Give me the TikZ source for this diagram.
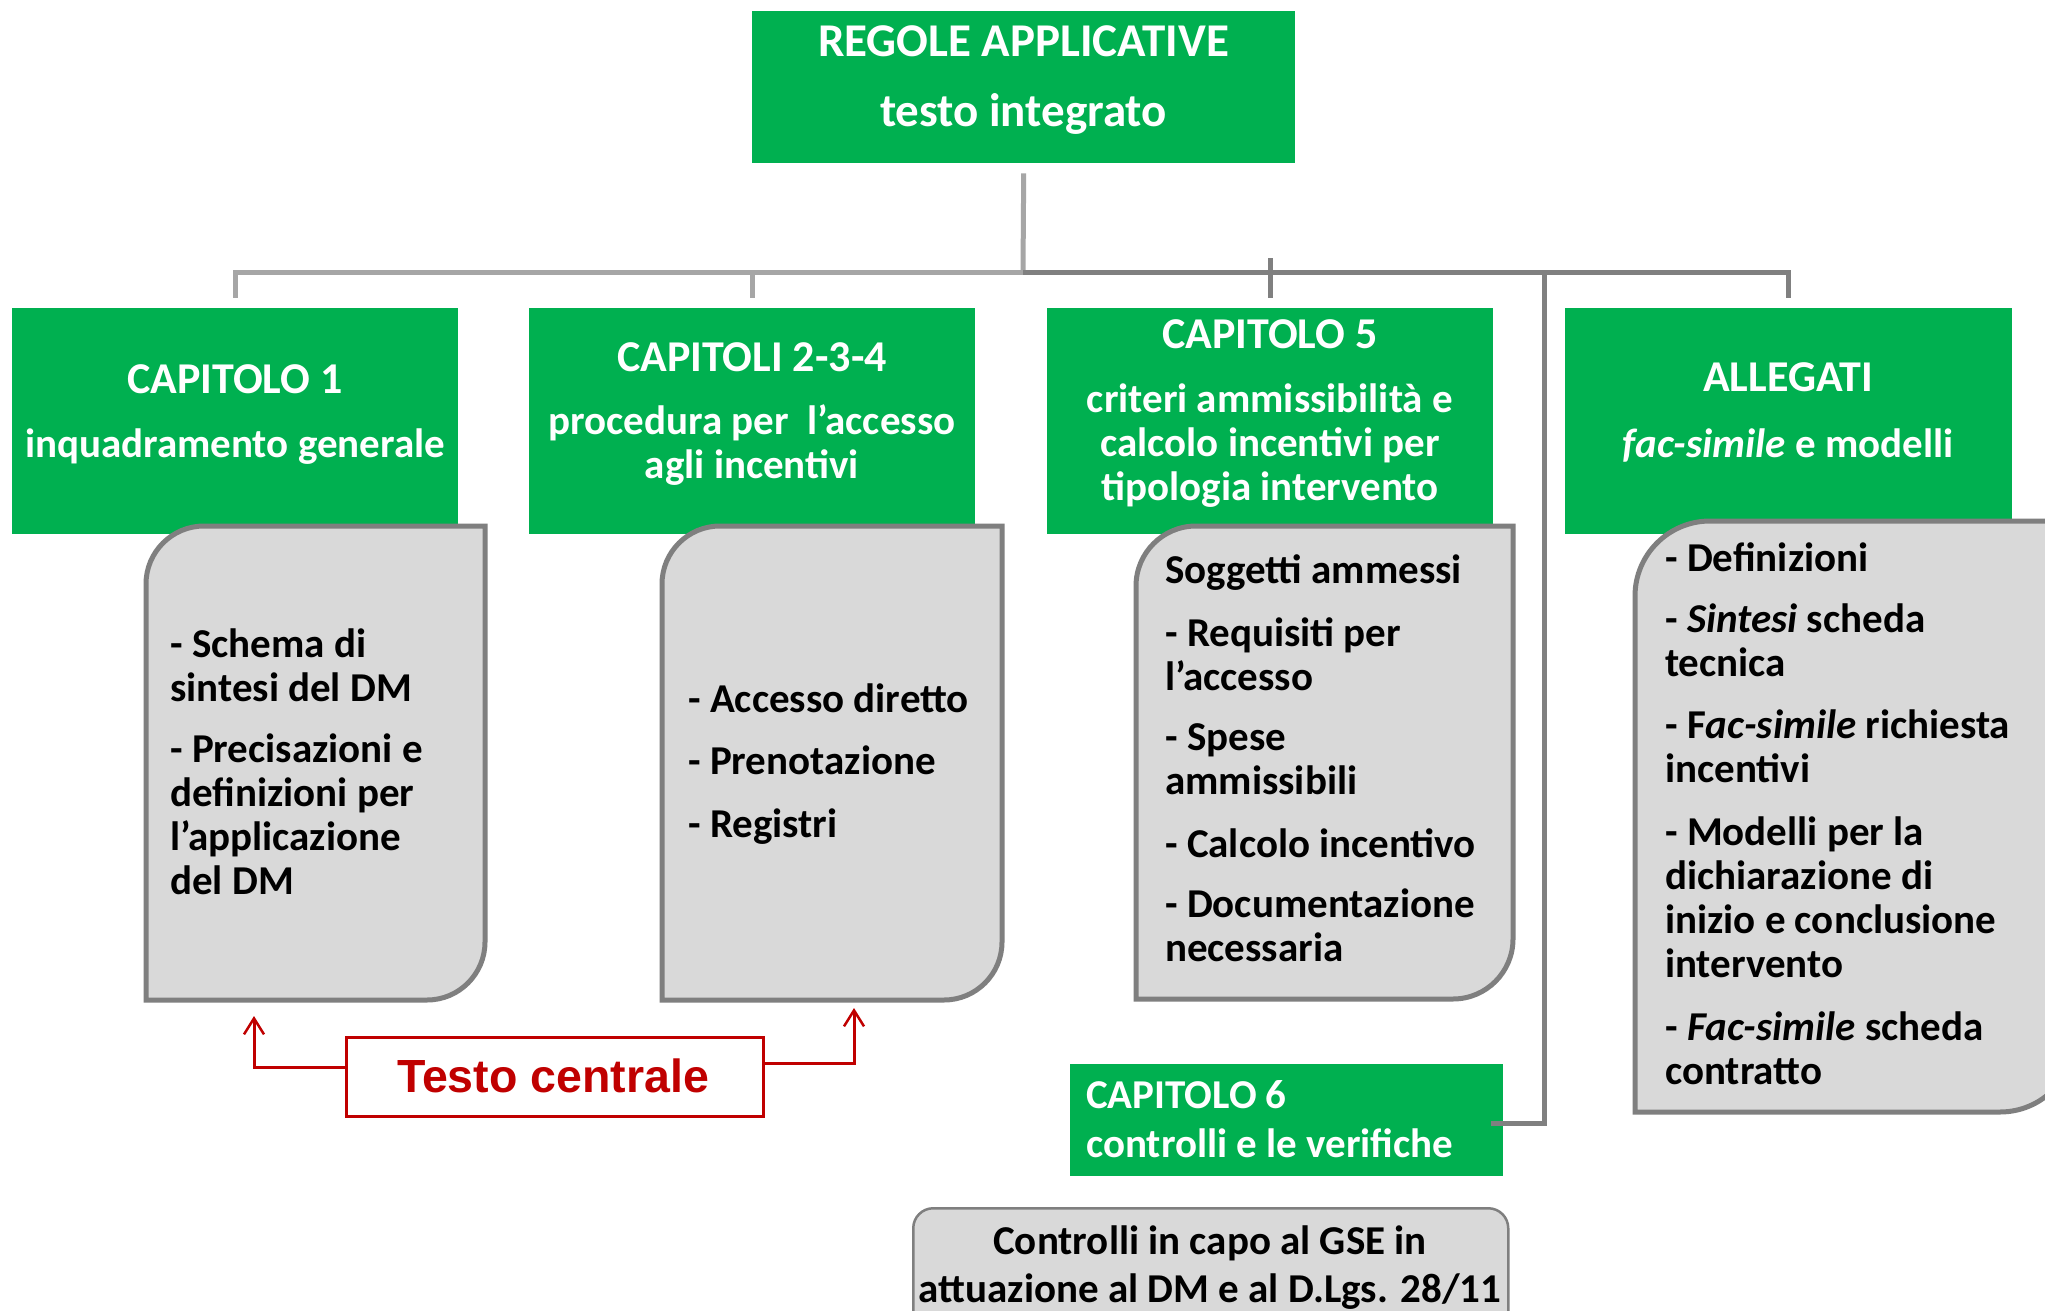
\documentclass[tikz,border=0pt]{standalone}
\usepackage{fontspec}
\setmainfont{Carlito}
\newfontfamily\arialfont{Liberation Sans}
\usetikzlibrary{arrows.meta}
\definecolor{gsegreen}{RGB}{0,176,80}
\definecolor{boxgrey}{RGB}{217,217,217}
\definecolor{edgegrey}{RGB}{127,127,127}
\definecolor{linelight}{RGB}{166,166,166}
\definecolor{linedark}{RGB}{128,128,128}
\definecolor{darkred}{RGB}{192,0,0}
% x1,y1,x2,y2,r : rectangle with rounded top-left and bottom-right corners
\newcommand{\greyshape}[5]{%
  \draw[greybox] (#1,#4) -- (#1,{#2+#5}) .. controls (#1,{#2+0.448*#5}) and ({#1+0.448*#5},#2) .. ({#1+#5},#2)
   -- (#3,#2) -- (#3,{#4-#5}) .. controls (#3,{#4-0.448*#5}) and ({#3-0.448*#5},#4) .. ({#3-#5},#4) -- cycle;}
\newcommand{\bigtitle}[1]{{\fontsize{44}{44}\selectfont #1}}
\begin{document}
\begin{tikzpicture}[x=1pt,y=-1pt,
  greenbox/.style={fill=gsegreen, draw=none, anchor=north west, inner sep=0pt},
  hdr/.style={text=white, font=\bfseries\fontsize{41}{44}\selectfont, align=center, anchor=base, inner sep=0pt},
  body/.style={text=black, font=\bfseries\fontsize{41}{44}\selectfont, align=left, anchor=base west, inner sep=0pt},
  greybox/.style={fill=boxgrey, draw=edgegrey, line width=5pt},
  connL/.style={draw=linelight, line width=5pt},
  connD/.style={draw=linedark, line width=5pt},
  redarrow/.style={draw=darkred, line width=3pt, -{Straight Barb[length=16pt,width=20pt,line width=2.5pt]}},
]
\useasboundingbox (0,0) rectangle (2045,1311);
\clip (0,0) rectangle (2045,1311);
\fill[white] (0,0) rectangle (2045,1311);

% green header boxes
\node[greenbox, minimum width=543pt, minimum height=152pt] (top) at (752,11) {};
\node[greenbox, minimum width=446pt, minimum height=226pt] (c1) at (12,308) {};
\node[greenbox, minimum width=446pt, minimum height=226pt] (c2) at (529,308) {};
\node[greenbox, minimum width=446pt, minimum height=226pt] (c5) at (1047,308) {};
\node[greenbox, minimum width=447pt, minimum height=226pt] (al) at (1565,308) {};
\node[greenbox, minimum width=433pt, minimum height=112pt] (c6) at (1070,1064) {};

% connectors
\coordinate (hub) at (1023,272);
\draw[connL] ([yshift=-10pt]top.south) -- (hub);
\draw[connL] (hub) -| ([yshift=10pt]c1.north);
\draw[connL] (hub -| c2.north) -- ([yshift=10pt]c2.north);
\draw[connD] (hub) -| ([yshift=10pt]al.north);
\draw[connD] ([yshift=14pt]hub -| c5.north) -- ([yshift=10pt]c5.north);
\coordinate (spine) at (1544,272);
\draw[connD] (spine) |- ([xshift=-12pt,yshift=-3pt]c6.east);

% header texts (anchor = baseline of last line)
\node[hdr, font=\bfseries\fontsize{47}{50}\selectfont] (toptxt) at (1023.5,127) {REGOLE APPLICATIVE\\[20pt]testo integrato};
\node[hdr] (c1txt) at (235,457) {\bigtitle{CAPITOLO 1}\\[20pt]inquadramento generale};
\node[hdr] (c2txt) at (752,478) {\bigtitle{CAPITOLI 2-3-4}\\[19pt]procedura per\ \ l’accesso\\agli incentivi};
\node[hdr] (c5txt) at (1270,500) {\bigtitle{CAPITOLO 5}\\[20pt]criteri ammissibilità e\\calcolo incentivi per\\tipologia intervento};
\node[hdr] (altxt) at (1788,457) {\bigtitle{ALLEGATI}\\[22pt]\textit{fac-simile} e modelli};
\node[hdr, align=left, anchor=base west] (c6txt) at (1086,1157) {CAPITOLO 6\\[5pt]controlli e le verifiche};

% grey content boxes
\greyshape{146}{526}{485}{1000}{58}
\greyshape{662}{526}{1002}{1000}{58}
\greyshape{1136}{526}{1513}{999}{60}
\greyshape{1635}{521}{2075}{1112}{75}

\node[body] (g1) at (170,894) {- Schema di\\sintesi del DM\\[17pt]- Precisazioni e\\definizioni per\\l’applicazione\\del DM};
\node[body] (g2) at (688,837) {- Accesso diretto\\[18pt]- Prenotazione\\[19pt]- Registri};
\node[body] (g3) at (1165,961) {Soggetti ammessi\\[19pt]- Requisiti per\\l’accesso\\[16pt]- Spese\\ammissibili\\[19pt]- Calcolo incentivo\\[16pt]- Documentazione\\necessaria};
\node[body] (g4) at (1665,1084) {- Definizioni\\[17pt]- \textit{Sintesi} scheda\\tecnica\\[18pt]- F\textit{ac-simile} richiesta\\incentivi\\[19pt]- Modelli per la\\dichiarazione di\\inizio e conclusione\\intervento\\[19pt]- \textit{Fac-simile} scheda\\contratto};

% bottom box
\node[anchor=north west, minimum width=595pt, minimum height=150pt, inner sep=0pt, fill=boxgrey, draw=edgegrey, line width=2.5pt, rounded corners=20pt] (gse) at (912,1207) {};
\node[hdr, text=black] (gsetxt) at (1210,1302) {Controlli in capo al GSE in\\[4pt]attuazione al DM e al D.Lgs. 28/11};

% Testo centrale
\node[anchor=north west, minimum width=417pt, minimum height=79pt, inner sep=0pt, draw=darkred, line width=3pt, fill=white] (tc) at (345,1036) {};
\node[anchor=base, inner sep=0pt, text=darkred, font=\arialfont\bfseries\fontsize{46.5}{50}\selectfont] (tctxt) at (553,1092) {Testo centrale};
\coordinate (a1) at (254,1016);
\coordinate (a2) at (854,1008);
\draw[redarrow] ([yshift=9.5pt]tc.west) -| (a1);
\draw[redarrow] ([yshift=13.5pt]tc.east) -| (a2);
\end{tikzpicture}
\end{document}
